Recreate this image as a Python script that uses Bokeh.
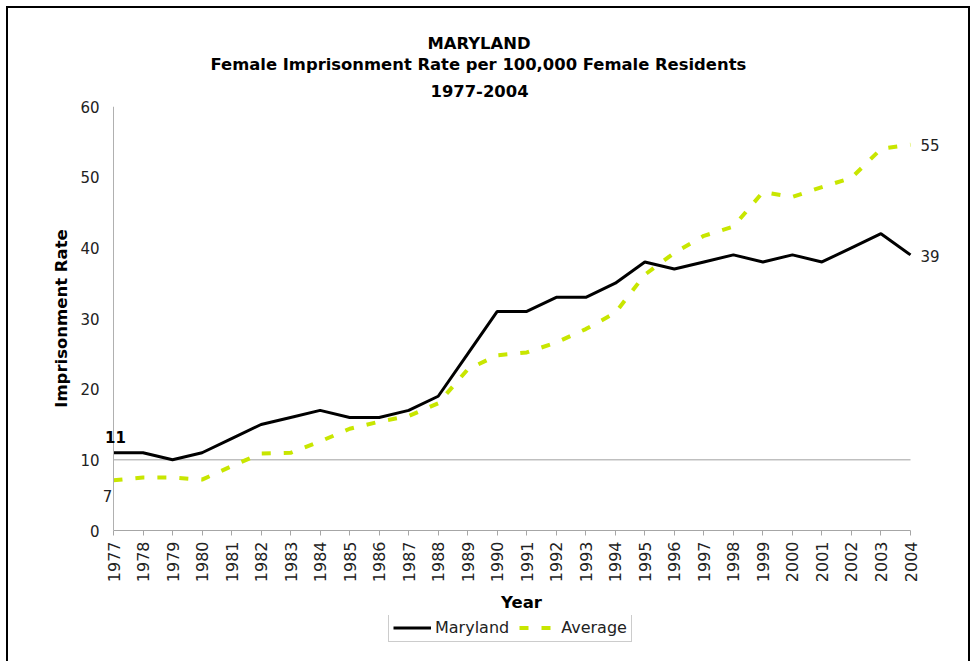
import math
from bokeh.plotting import figure
from bokeh.layouts import column
from bokeh.models import (Range1d, FixedTicker, Title, Legend, LegendItem,
                          ColumnDataSource, Label, Span)
from bokeh.embed import file_html
from bokeh.resources import INLINE

years = list(range(1977, 2005))
maryland = [11, 11, 10, 11, 13, 15, 16, 17, 16, 16, 17, 19, 25, 31,
            31, 33, 33, 35, 38, 37, 38, 39, 38, 39, 38, 40, 42, 39]
average = [7.1, 7.5, 7.5, 7.2, 9.1, 10.9, 11.0, 12.6, 14.4, 15.4, 16.2, 18.0,
           22.8, 24.8, 25.2, 26.6, 28.5, 30.8, 36.2, 39.3, 41.7, 43.0, 47.9,
           47.2, 48.6, 49.9, 54.0, 54.6]
y_ticks = [0, 10, 20, 30, 40, 50, 60]
ref_level = [10]
title_lines = ["MARYLAND", "Female Imprisonment Rate per 100,000 Female Residents", "1977-2004"]
series_names = ["Maryland", "Average"]

FONT = "DejaVu Sans"
MD_COLOR, AVG_COLOR = "black", "#c8e600"
AVG_DASH = "9 13"
# canvas geometry (canvas origin sits at page (8, 8))
W = 960
ML, MT, MB = 92, 98, 85
FRAME_H = 424
FRAME_R = 934
FRAME_W = FRAME_R - ML
MR = W - FRAME_R
LEG_H = 46
AXIS_L, AXIS_R = 105, 902          # canvas x of first / last year
PX = (AXIS_R - AXIS_L) / (years[-1] - years[0])
x_start = years[0] - (AXIS_L - ML) / PX
x_end = years[-1] + (FRAME_R - AXIS_R) / PX

p = figure(frame_width=FRAME_W, frame_height=FRAME_H, output_backend="svg",
           toolbar_location=None,
           x_range=Range1d(x_start, x_end), y_range=Range1d(y_ticks[0], y_ticks[-1]),
           min_border_left=ML, min_border_top=MT, min_border_bottom=MB,
           min_border_right=MR)
p.title.visible = False
p.outline_line_color = None
p.background_fill_color = "white"
p.border_fill_color = "white"

title_offsets = [330, 110, 327]  # innermost line first
title_standoffs = [19, 0, 0]
for i, t in enumerate(reversed(title_lines)):
    p.add_layout(Title(text=t, align="left", offset=title_offsets[i], text_font=FONT,
                       text_font_size="16.4px", text_font_style="bold",
                       text_color="black", standoff=title_standoffs[i]), "above")

# axes
xa = p.xaxis[0]
xa.ticker = FixedTicker(ticks=years)
xa.bounds = (years[0], years[-1])
xa.major_label_orientation = math.pi / 2
xa.major_label_text_font = FONT
xa.major_label_text_font_size = "16px"
xa.major_label_text_color = "#222222"
xa.major_label_standoff = 6
xa.axis_line_color = "#a6a6a6"
xa.major_tick_line_color = "#a6a6a6"
xa.major_tick_out = 5
xa.major_tick_in = 0
xa.minor_tick_line_color = None
xa.axis_label = "Year"
xa.axis_label_text_font = FONT
xa.axis_label_text_font_size = "16.5px"
xa.axis_label_text_font_style = "bold"
xa.axis_label_text_color = "black"
xa.axis_label_standoff = 8

ya = p.yaxis[0]
ya.ticker = FixedTicker(ticks=y_ticks)
ya.major_label_text_font = FONT
ya.major_label_text_font_size = "15px"
ya.major_label_text_color = "#222222"
ya.major_label_standoff = 1
ya.axis_line_color = None
ya.major_tick_out = 0
ya.major_tick_in = 0
ya.major_tick_line_color = None
ya.minor_tick_line_color = None
ya.axis_label = "Imprisonment Rate"
ya.axis_label_text_font = FONT
ya.axis_label_text_font_size = "16.5px"
ya.axis_label_text_font_style = "bold"
ya.axis_label_text_color = "black"
ya.axis_label_standoff = 6

# vertical axis rule drawn at the first year
p.add_layout(Span(location=years[0], dimension="height", line_color="#b0b0b0",
                  line_width=1))

p.xgrid.grid_line_color = None
p.ygrid.grid_line_color = None
# horizontal reference line across the plotted years
p.segment(x0=[years[0]] * len(ref_level), x1=[years[-1]] * len(ref_level),
          y0=ref_level, y1=ref_level, line_color="#a0a0a0", line_width=1)

src = ColumnDataSource(dict(year=years, md=maryland, avg=average))
p.line("year", "avg", source=src, line_color=AVG_COLOR, line_width=4,
       line_dash=AVG_DASH)
p.line("year", "md", source=src, line_color=MD_COLOR, line_width=3)

# data labels
lab_kw = dict(text_font=FONT, text_font_size="15px", text_baseline="middle")
p.add_layout(Label(x=years[0], y=maryland[0], text=str(round(maryland[0])),
                   x_offset=2, y_offset=16, text_align="center", text_color="black",
                   text_font_style="bold", **lab_kw))
p.add_layout(Label(x=years[0], y=average[0], text=str(round(average[0])),
                   x_offset=-6, y_offset=-16, text_align="center", text_color="#222222",
                   **lab_kw))
p.add_layout(Label(x=years[-1], y=average[-1], text=str(round(average[-1])),
                   x_offset=10, y_offset=0, text_align="left", text_color="#222222",
                   **lab_kw))
p.add_layout(Label(x=years[-1], y=maryland[-1], text=str(round(maryland[-1])),
                   x_offset=10, y_offset=-1, text_align="left", text_color="#222222",
                   **lab_kw))

# legend strip below the chart (single-point key lines: nothing visible is drawn)
lg = figure(width=W, height=LEG_H, output_backend="svg", toolbar_location=None,
            x_axis_type=None, y_axis_type=None, x_range=Range1d(0, 1),
            y_range=Range1d(0, 1), min_border_left=0, min_border_right=0,
            min_border_top=0, min_border_bottom=0)
lg.title.visible = False
lg.outline_line_color = None
lg.background_fill_color = "white"
lg.border_fill_color = "white"
k_md = lg.line(x=[0.5], y=[0.5], line_color=MD_COLOR, line_width=3)
k_avg = lg.line(x=[0.5], y=[0.5], line_color=AVG_COLOR, line_width=4,
                line_dash=AVG_DASH)

legend = Legend(items=[LegendItem(label=series_names[0], renderers=[k_md]),
                       LegendItem(label=series_names[1], renderers=[k_avg])],
                orientation="horizontal", location=(288, 19))
legend.label_text_font = FONT
legend.label_text_font_size = "16px"
legend.label_text_color = "#222222"
legend.glyph_width = 38
legend.glyph_height = 17
legend.label_standoff = 4
legend.spacing = 10
legend.padding = 4
legend.margin = 0
legend.border_line_color = "#999999"
legend.label_height = 17
lg.add_layout(legend)

layout = column(p, lg, spacing=0)
layout.styles = {"border-left": "2px solid black", "border-top": "2px solid black",
                 "border-right": "2px solid black", "margin-left": "6px",
                 "margin-top": "6px"}

html = file_html(layout, INLINE)
open("out.html", "w").write(html)
